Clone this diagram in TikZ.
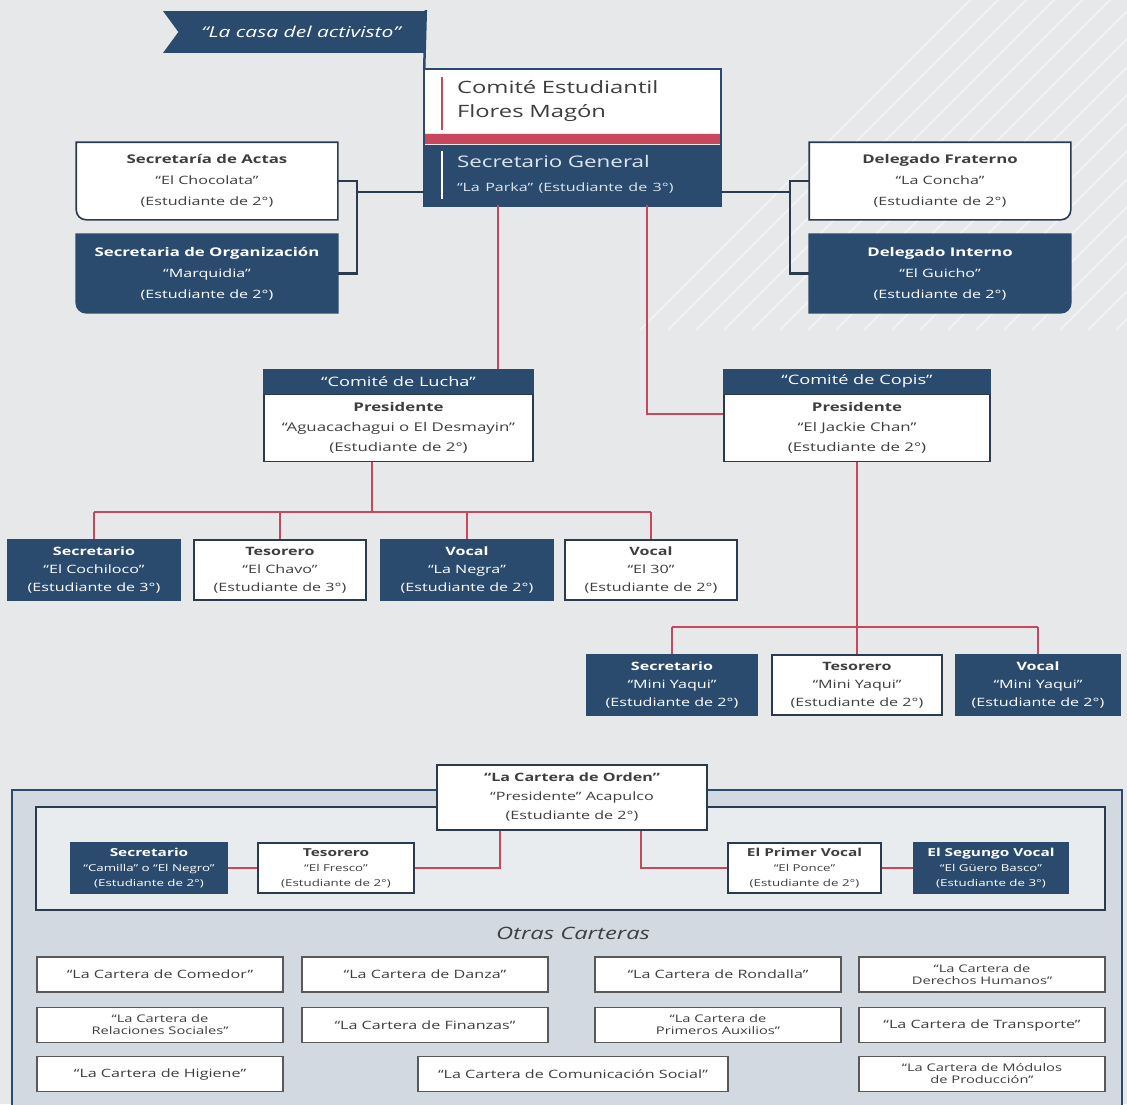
\documentclass[tikz,border=0pt]{standalone}
\usepackage{fontspec}
\setmainfont{Open Sans}[FakeStretch=1.4]
\usetikzlibrary{backgrounds}

\definecolor{navy}{HTML}{2B4B6E}
\definecolor{dkline}{HTML}{2A3B4F}
\definecolor{redl}{HTML}{C9475D}
\definecolor{txt}{HTML}{3E3E3E}
\definecolor{bgc}{HTML}{E7E8EA}
\definecolor{panel}{HTML}{D3D9E0}
\definecolor{inpanel}{HTML}{E9ECEF}
\definecolor{pale}{HTML}{DCE6F0}

\newcommand\fs[2]{\fontsize{#1}{#2}\selectfont}
\newcommand\cornerbl[2]{\path[#2] (#1.north west) -- (#1.north east) -- (#1.south east)
  -- ([xshift=10pt]#1.south west) arc[start angle=270,end angle=180,radius=10pt] -- cycle;}
\newcommand\cornerbr[2]{\path[#2] (#1.north east) -- (#1.north west) -- (#1.south west)
  -- ([xshift=-10pt]#1.south east) arc[start angle=270,end angle=360,radius=10pt] -- cycle;}

\begin{document}
\begin{tikzpicture}[x=1pt,y=-1pt,
  base/.style={align=center,inner sep=0pt,line width=1.6pt},
  dkbox/.style={base,fill=navy,draw=navy,text=white},
  wtbox/.style={base,fill=white,draw=dkline,text=txt},
  small/.style={minimum width=172pt,minimum height=60pt,font=\fs{11.5}{18}},
  tiny/.style={minimum width=155pt,minimum height=50pt,font=\fs{9.5}{15}},
  cbox/.style={base,fill=white,draw=black!65,line width=1.2pt,text=txt,
    minimum width=246pt,minimum height=35pt,font=\fs{11.5}{12}},
  cbox2/.style={cbox,font=\fs{10.5}{12}},
  link/.style={draw=dkline,line width=2.2pt},
  redlink/.style={draw=redl,line width=2.5pt}]
\useasboundingbox (0,0) rectangle (1127,1104);
\begin{scope}[on background layer]
  \fill[bgc] (0,0) rectangle (1127,1104);
  \foreach \k in {0,...,18}
    \draw[white,opacity=.5,line width=1.5pt] (640+\k*28,330) -- ++(330,-330);
\end{scope}

% banner
\node[base,fill=navy,text=white,minimum width=262pt,minimum height=42pt,font=\fs{15}{18}\itshape]
  (casa) at (294,32) {\hspace*{14pt}“La casa del activisto”};
\fill[bgc] (casa.north west) -- ([xshift=16pt]casa.west) -- (casa.south west) -- cycle;

% main box
\node[base,fill=white,minimum width=295pt,minimum height=63pt,text width=231pt,align=left,
  inner xsep=32pt,text=txt,font=\fs{17}{24}] (cefm) at (572.5,101.5) {Comité Estudiantil\\Flores Magón};
\fill[redl] (cefm.south west) rectangle ([yshift=-10pt]cefm.south east);
\node[base,fill=navy,minimum width=295pt,minimum height=60pt,text width=231pt,align=left,
  inner xsep=32pt,text=pale,font=\fs{16}{24},anchor=north] (secgen) at ([yshift=-10pt]cefm.south)
  {Secretario General\\{\fs{11.5}{16}“La Parka” (Estudiante de 3°)}};
\draw[navy,line width=2.5pt] (cefm.north west) rectangle (secgen.south east);
\draw[redl,line width=1.5pt] ([xshift=18pt,yshift=-8pt]cefm.north west) -- ([xshift=18pt,yshift=4pt]cefm.south west);
\draw[white,line width=1.5pt] ([xshift=18pt,yshift=-7pt]secgen.north west) -- ([xshift=18pt,yshift=6pt]secgen.south west);
\draw[navy,line width=2.5pt] (casa.north east) -- (cefm.north west);

% side boxes
\node[base,text=txt,minimum width=260pt,minimum height=76pt,font=\fs{11.5}{21}] (act) at (207,181)
  {{\fs{12}{21}\bfseries Secretaría de Actas}\\“El Chocolata”\\(Estudiante de 2°)};
\node[base,text=white,minimum width=260pt,minimum height=77pt,font=\fs{11.5}{21}] (org) at (207,273.5)
  {{\fs{12}{21}\bfseries Secretaria de Organización}\\“Marquidia”\\(Estudiante de 2°)};
\node[base,text=txt,minimum width=260pt,minimum height=76pt,font=\fs{11.5}{21}] (dfra) at (940,181)
  {{\fs{12}{21}\bfseries Delegado Fraterno}\\“La Concha”\\(Estudiante de 2°)};
\node[base,text=white,minimum width=260pt,minimum height=77pt,font=\fs{11.5}{21}] (dint) at (940,273.5)
  {{\fs{12}{21}\bfseries Delegado Interno}\\“El Guicho”\\(Estudiante de 2°)};
\begin{scope}[on background layer]
  \cornerbl{act}{fill=white,draw=dkline,line width=1.6pt}
  \cornerbl{org}{fill=navy,draw=navy,line width=1.6pt}
  \cornerbr{dfra}{fill=white,draw=dkline,line width=1.6pt}
  \cornerbr{dint}{fill=navy,draw=navy,line width=1.6pt}
\end{scope}
\coordinate (jl) at (357,192);
\coordinate (jr) at (790,192);
\draw[link] (act.east) -- (act.east -| jl) |- (org.east);
\draw[link] (jl) -- (secgen.west |- jl);
\draw[link] (dfra.west) -- (dfra.west -| jr) |- (dint.west);
\draw[link] (jr) -- (secgen.east |- jr);

% comites
\node[dkbox,minimum width=269pt,minimum height=23pt,font=\fs{13}{16}] (lucha) at (398.5,381.5) {“Comité de Lucha”};
\node[wtbox,minimum width=269pt,minimum height=67pt,font=\fs{12}{20},anchor=north] (luchab) at (lucha.south)
  {\textbf{Presidente}\\“Aguacachagui o El Desmayin”\\(Estudiante de 2°)};
\node[dkbox,minimum width=266pt,minimum height=23pt,font=\fs{13}{16}] (copis) at (857,381.5) {“Comité de Copis”};
\node[wtbox,minimum width=266pt,minimum height=67pt,font=\fs{12}{20},anchor=north] (copisb) at (copis.south)
  {\textbf{Presidente}\\“El Jackie Chan”\\(Estudiante de 2°)};
\coordinate (ra) at (498,203);
\coordinate (rb) at (647,203);
\coordinate (rb2) at (647,414);
\draw[redlink] (ra |- secgen.south) -- (ra |- lucha.north);
\draw[redlink] (rb |- secgen.south) -- (rb2) -- (rb2 -| copisb.west);

\node[dkbox,small] (ls) at (94,570) {\textbf{Secretario}\\“El Cochiloco”\\(Estudiante de 3°)};
\node[wtbox,small] (lt) at (280,570) {\textbf{Tesorero}\\“El Chavo”\\(Estudiante de 3°)};
\node[dkbox,small] (lv) at (467,570) {\textbf{Vocal}\\“La Negra”\\(Estudiante de 2°)};
\node[wtbox,small] (lw) at (651,570) {\textbf{Vocal}\\“El 30”\\(Estudiante de 2°)};
\coordinate (lb) at (372,512);
\draw[redlink] (lb |- luchab.south) -- (lb);
\draw[redlink] (lb -| ls) -- (lb -| lw);
\foreach \n in {ls,lt,lv,lw} \draw[redlink] (lb -| \n) -- (\n.north);

\node[dkbox,small,minimum width=170pt] (cs) at (672,685) {\textbf{Secretario}\\“Mini Yaqui”\\(Estudiante de 2°)};
\node[wtbox,small,minimum width=170pt] (ct) at (857,685) {\textbf{Tesorero}\\“Mini Yaqui”\\(Estudiante de 2°)};
\node[dkbox,small,minimum width=165pt] (cv) at (1038,685) {\textbf{Vocal}\\“Mini Yaqui”\\(Estudiante de 2°)};
\coordinate (cb) at (857,627);
\draw[redlink] (copisb.south) -- (cb);
\draw[redlink] (cb -| cs) -- (cb -| cv);
\foreach \n in {cs,ct,cv} \draw[redlink] (cb -| \n) -- (\n.north);

% carteras
\draw[navy,line width=2.5pt,fill=panel] (12,790) rectangle (1122,1115);
\draw[dkline,line width=2pt,fill=inpanel] (36,807) rectangle (1105,910);
\node[wtbox,minimum width=270pt,minimum height=65pt,font=\fs{11.5}{19}] (co) at (572,797.5)
  {\textbf{“La Cartera de Orden”}\\“Presidente” Acapulco\\(Estudiante de 2°)};
\node[dkbox,tiny,minimum width=156pt] (os) at (149,868) {{\fs{11}{15}\bfseries Secretario}\\“Camilla” o “El Negro”\\(Estudiante de 2°)};
\node[wtbox,tiny,minimum width=156pt] (ot) at (336,868) {{\fs{11}{15}\bfseries Tesorero}\\“El Fresco”\\(Estudiante de 2°)};
\node[wtbox,tiny,minimum width=153pt] (opv) at (804.5,868) {{\fs{11}{15}\bfseries El Primer Vocal}\\“El Ponce”\\(Estudiante de 2°)};
\node[dkbox,tiny,minimum width=155pt] (osv) at (991,868) {{\fs{11}{15}\bfseries El Segungo Vocal}\\“El Güero Basco”\\(Estudiante de 3°)};
\coordinate (oa) at (500,866);
\coordinate (ob) at (641,866);
\draw[redlink,line width=2pt] (oa |- co.south) |- (ot.east);
\draw[redlink,line width=2pt] (ob |- co.south) |- (opv.west);
\draw[redlink,line width=2pt] (os) -- (ot);
\draw[redlink,line width=2pt] (opv) -- (osv);

\node[text=txt!90!navy,font=\fs{17}{20}\itshape] (otras) at (573,933) {Otras Carteras};
\node[cbox] (c11) at (160,974.5) {“La Cartera de Comedor”};
\node[cbox] (c12) at (425,974.5) {“La Cartera de Danza”};
\node[cbox] (c13) at (718,974.5) {“La Cartera de Rondalla”};
\node[cbox2] (c14) at (982,974.5) {“La Cartera de\\Derechos Humanos”};
\node[cbox2] (c21) at (160,1025) {“La Cartera de\\Relaciones Sociales”};
\node[cbox] (c22) at (425,1025) {“La Cartera de Finanzas”};
\node[cbox2] (c23) at (718,1025) {“La Cartera de\\Primeros Auxilios”};
\node[cbox] (c24) at (982,1025) {“La Cartera de Transporte”};
\node[cbox] (c31) at (160,1074) {“La Cartera de Higiene”};
\node[cbox,minimum width=310pt] (c32) at (573,1074) {“La Cartera de Comunicación Social”};
\node[cbox2] (c34) at (982,1074) {“La Cartera de Módulos\\de Producción”};
\end{tikzpicture}
\end{document}
